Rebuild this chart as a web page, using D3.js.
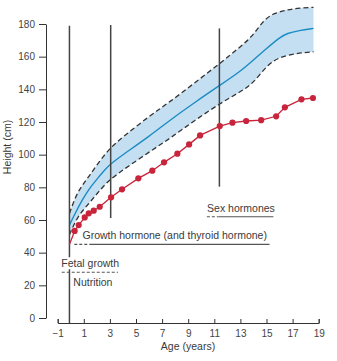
<!DOCTYPE html>
<html lang="en">
<head>
<meta charset="utf-8">
<style type="text/css">
  body { margin: 0; background: #fff; }
  text { font-family: "Liberation Sans", Arial, sans-serif; }
  .lbl { font-size: 10.5px; fill: #3a3a3a; }
</style>
</head>
<body>
<svg width="337" height="361"></svg>

<script src="https://cdn.jsdelivr.net/npm/d3@7"></script>
<script type="text/javascript">
// normal range: mean and upper / lower limits
var meanAge = [-0.1, 0.3, 0.86, 1.35, 2.0, 2.53, 3.0, 3.78, 6.08, 7.61, 9.5, 11.45, 13, 14, 15, 16.05, 16.56, 17.5, 18.6];
var meanH   = [57, 63.5, 72, 78.5, 85, 90, 94, 98.8, 111.6, 121.2, 132, 142.6, 151, 158, 165, 172, 174.3, 176, 177.3];

var upperAge = [-0.1, 0.35, 0.8, 1.38, 2.2, 3.0, 3.78, 6.08, 7.61, 9.5, 11.45, 13, 14, 14.77, 15.53, 16.5, 17.3, 18.6];
var upperH   = [64, 74, 80.5, 86.5, 96, 103.9, 109.5, 124, 132.4, 144, 156, 166, 173.2, 182.4, 186.5, 188.5, 189.6, 190.2];

var lowerAge = [-0.1, 0.5, 1.38, 2.0, 2.65, 3.01, 3.78, 6.08, 7.61, 9.5, 11.45, 13, 14, 15.03, 16.05, 17.3, 18.6];
var lowerH   = [51, 62, 70, 76, 82, 84.5, 89.5, 102, 110, 121, 131.4, 138.5, 143.7, 154.9, 160, 162, 163];

// measured child (red); first point is the start of the line, without a dot
var childAge = [-0.1, 0.3, 0.61, 1.07, 1.38, 1.76, 2.22, 3.09, 3.93, 5.18, 6.25, 7.15, 8.17, 9.07, 9.91, 11.42, 12.39, 13.44, 14.59, 15.74, 16.41, 17.68, 18.56];
var childH   = [45, 53.3, 56.9, 61.6, 64.1, 65.7, 68.1, 73.9, 78.8, 85.5, 90.2, 95.3, 100.6, 106.3, 111.8, 117.5, 119.6, 120.6, 121.1, 123.5, 129, 133.9, 134.7];

// vertical marker lines: age, top, bottom (null = down to the axis)
var markAge    = [-0.1, 3.06, 11.39];
var markTop    = [179, 179.4, 177.3];
var markBottom = [null, 61.2, 80.4];

// hormone labels
var hormLabels = ["Sex hormones", "Growth hormone (and thyroid hormone)", "Fetal growth"];
var hormY      = [62, 45.1, 28];      // height of the underline
var hormDashA  = [10.43, 0.27, -0.69];
var hormDashB  = [11.32, 1.48, 3.62];
var hormEnd    = [15.53, 15.23, 3.62];
var hormTextX  = [10.45, 0.9, -0.72];

var xTicks = d3.range(-1, 20, 2);
var yTicks = d3.range(0, 181, 20);

var svg = d3.select("svg");

var x = d3.scaleLinear().domain([-1, 19]).range([57.7, 318.7]);
var y = d3.scaleLinear().domain([0, 180]).range([318, 24]);
var axisY = y(0) + 5;

function pts(a, b) { return a.map(function(d, i) { return [x(d), y(b[i])]; }); }

var curve = d3.line().curve(d3.curveBasis);
var upperPts = pts(upperAge, upperH);
var lowerPts = pts(lowerAge, lowerH);

// band
svg.append("path")
  .attr("d", curve(upperPts) + "L" + curve(lowerPts.slice().reverse()).slice(1) + "Z")
  .attr("fill", "#c4dff1");

[upperPts, lowerPts].forEach(function(p) {
  svg.append("path")
    .attr("d", curve(p))
    .attr("fill", "none")
    .attr("stroke", "#333")
    .attr("stroke-width", 1.3)
    .attr("stroke-dasharray", "5,3");
});

svg.append("path")
  .attr("d", curve(pts(meanAge, meanH)))
  .attr("fill", "none")
  .attr("stroke", "#1a8cc4")
  .attr("stroke-width", 1.4);

// vertical markers
svg.selectAll(".mark").data(markAge).enter().append("line")
  .attr("x1", function(d) { return x(d); })
  .attr("x2", function(d) { return x(d); })
  .attr("y1", function(d, i) { return y(markTop[i]); })
  .attr("y2", function(d, i) { return markBottom[i] == null ? axisY : y(markBottom[i]); })
  .attr("stroke", "#444")
  .attr("stroke-width", 1.5);

// child curve
svg.append("path")
  .attr("d", d3.line()(pts(childAge, childH)))
  .attr("fill", "none")
  .attr("stroke", "#c8243c")
  .attr("stroke-width", 1.3);

svg.selectAll(".dot").data(childAge.slice(1)).enter().append("circle")
  .attr("cx", function(d) { return x(d); })
  .attr("cy", function(d, i) { return y(childH[i + 1]); })
  .attr("r", 3.1)
  .attr("fill", "#c8243c");

// hormone lines and labels
hormLabels.forEach(function(t, i) {
  var yy = y(hormY[i]);
  svg.append("line")
    .attr("x1", x(hormDashA[i])).attr("x2", x(hormDashB[i]))
    .attr("y1", yy).attr("y2", yy)
    .attr("stroke", "#555").attr("stroke-width", 1.2)
    .attr("stroke-dasharray", "3,2");
  if (hormEnd[i] > hormDashB[i]) {
    svg.append("line")
      .attr("x1", x(hormDashB[i])).attr("x2", x(hormEnd[i]))
      .attr("y1", yy).attr("y2", yy)
      .attr("stroke", "#555").attr("stroke-width", 1.2);
  }
  var txt = svg.append("text").attr("class", "lbl")
    .attr("x", x(hormTextX[i])).attr("y", yy - 5)
    .text(t);
  if (i == 2) {
    // white patch behind the label where the birth line crosses it
    var bb = txt.node().getBBox();
    svg.insert("rect", "text")
      .attr("x", bb.x - 1).attr("y", bb.y)
      .attr("width", bb.width + 2).attr("height", bb.height)
      .attr("fill", "#fff");
  }
});
svg.append("text").attr("class", "lbl")
  .attr("x", x(0.2)).attr("y", y(hormY[2]) + 13.5)
  .text("Nutrition");

// axes
var gx = svg.append("g")
  .attr("transform", "translate(0," + axisY + ")")
  .call(d3.axisBottom(x).tickValues(xTicks).tickSize(-4).tickPadding(7));
var gy = svg.append("g")
  .attr("transform", "translate(46,0)")
  .call(d3.axisLeft(y).tickValues(yTicks).tickSize(7).tickSizeOuter(0).tickPadding(4));

[gx, gy].forEach(function(g) {
  g.attr("font-family", "Liberation Sans, Arial, sans-serif").attr("font-size", 10);
  g.selectAll("path, line").attr("stroke", "#333");
  g.selectAll("text").attr("fill", "#444");
});

svg.append("text").attr("class", "lbl")
  .attr("x", 188).attr("y", 350)
  .attr("text-anchor", "middle")
  .text("Age (years)");

svg.append("text").attr("class", "lbl")
  .attr("transform", "translate(10.5,147) rotate(-90)")
  .attr("text-anchor", "middle")
  .text("Height (cm)");
</script>
</body>
</html>
